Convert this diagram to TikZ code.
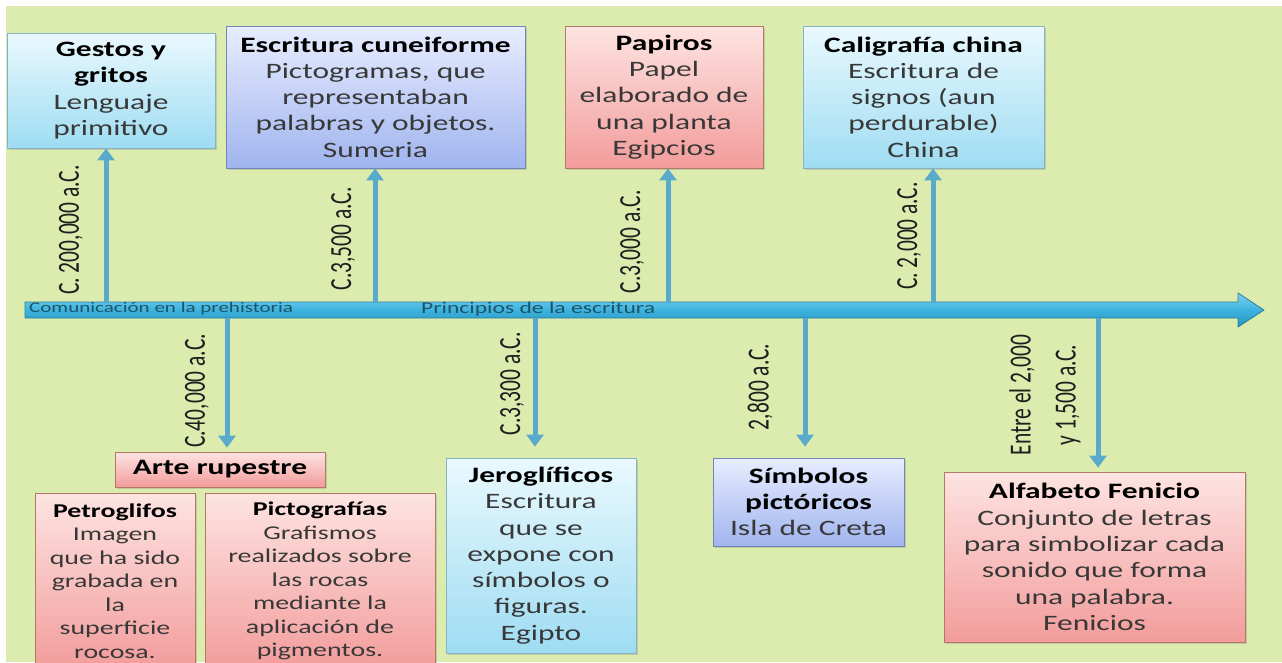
\documentclass[tikz,border=0pt]{standalone}
\usepackage{fontspec}
\setmainfont{Carlito}[FakeStretch=1.43]
\newfontfamily\datefont{Carlito}[FakeStretch=0.7]
\usetikzlibrary{arrows.meta,shadows}
\definecolor{bgG}{HTML}{DCECAE}
\definecolor{cyT}{HTML}{EAF9FE}
\definecolor{cyB}{HTML}{9EDCF2}
\definecolor{cyL}{HTML}{86B4C6}
\definecolor{blT}{HTML}{E8EDFF}
\definecolor{blB}{HTML}{A0B4EE}
\definecolor{blL}{HTML}{7186B8}
\definecolor{rdT}{HTML}{FDE4E2}
\definecolor{rdB}{HTML}{F29C9B}
\definecolor{rdL}{HTML}{B27A66}
\definecolor{arrC}{HTML}{5AAACB}
\definecolor{tlT}{HTML}{7FD3EE}
\definecolor{tlM}{HTML}{3CB2DE}
\definecolor{tlB}{HTML}{2A93BF}
\definecolor{tlL}{HTML}{2F7E9E}
\definecolor{eraT}{HTML}{1B5567}
\newcommand\boxhead[1]{\textcolor{black}{\bfseries #1}}

\begin{document}
\begin{tikzpicture}[x=1pt,y=-1pt,
  box/.style={rectangle,inner sep=0pt,align=center,line width=0.8pt,text=black!78,
    font=\fontsize{22}{26.3}\selectfont,
    drop shadow={shadow xshift=1.5pt,shadow yshift=-1.5pt,opacity=.3}},
  cybox/.style={box,draw=cyL,top color=cyT,bottom color=cyB},
  blbox/.style={box,draw=blL,top color=blT,bottom color=blB},
  rdbox/.style={box,draw=rdL,top color=rdT,bottom color=rdB},
  small/.style={font=\fontsize{19.5}{23.5}\selectfont},
  datelbl/.style={rotate=90,inner sep=0pt,align=center,text=black!88,
    font=\datefont\fontsize{30.7}{45}\selectfont},
  conn/.style={draw=arrC,line width=5pt,-{Triangle[width=17pt,length=12pt]}},
  era/.style={anchor=west,inner sep=0pt,text=eraT}]
\useasboundingbox (0,0) rectangle (1282,662);
\clip (0,0) rectangle (1282,662);
\fill[white] (0,0) rectangle (1282,662);
\fill[bgG] (6,6) rectangle (1282,662);

\shade[top color=tlT,bottom color=tlB,middle color=tlM,draw=tlL,line width=0.8pt]
  (25,302) -- (1238,302) -- (1238,293) -- (1264,310) -- (1238,327) -- (1238,318) -- (25,318) -- cycle;
\node[era,font=\fontsize{14.7}{15}\selectfont] (pre) at (29,309) {Comunicación en la prehistoria};
\node[era,font=\fontsize{16.5}{17}\selectfont] (esc) at (421,309) {Principios de la escritura};

\coordinate (u1) at (106,302);
\coordinate (u2) at (375,302);
\coordinate (u3) at (668,302);
\coordinate (u4) at (933,302);
\coordinate (w1) at (227,318);
\coordinate (w2) at (535,318);
\coordinate (w3) at (805,318);
\coordinate (w4) at (1098,318);

\node[cybox,minimum width=208pt,minimum height=115pt] (gestos) at (111,90.5)
  {\boxhead{Gestos y}\\\boxhead{gritos}\\Lenguaje\\primitivo};
\node[blbox,minimum width=299pt,minimum height=142pt] (cunei) at (375.5,97)
  {\boxhead{Escritura cuneiforme}\\Pictogramas, que\\representaban\\palabras y objetos.\\Sumeria};
\node[rdbox,minimum width=198pt,minimum height=142pt] (papiros) at (664,97)
  {\boxhead{Papiros}\\Papel\\elaborado de\\una planta\\Egipcios};
\node[cybox,minimum width=241pt,minimum height=142pt] (china) at (923.5,97)
  {\boxhead{Caligrafía china}\\Escritura de\\signos (aun\\perdurable)\\China};

\node[rdbox,minimum width=210pt,minimum height=35pt] (arte) at (220,469.5)
  {\boxhead{Arte rupestre}};
\node[rdbox,small,minimum width=160pt,minimum height=176pt] (petro) at (115,581)
  {\boxhead{Petroglifos}\\Imagen\\que ha sido\\grabada en\\la\\superficie\\rocosa.};
\node[rdbox,small,minimum width=230pt,minimum height=176pt] (picto) at (320,581)
  {\boxhead{Pictografías}\\Grafismos\\realizados sobre\\las rocas\\mediante la\\aplicación de\\pigmentos.};
\node[cybox,minimum width=190pt,minimum height=195pt] (jero) at (541,555.5)
  {\boxhead{Jeroglíficos}\\Escritura\\que se\\expone con\\símbolos o\\figuras.\\Egipto};
\node[blbox,minimum width=191pt,minimum height=88pt] (simb) at (808.5,502)
  {\boxhead{Símbolos}\\\boxhead{pictóricos}\\Isla de Creta};
\node[rdbox,minimum width=301pt,minimum height=170pt] (fenicio) at (1094.5,557)
  {\boxhead{Alfabeto Fenicio}\\Conjunto de letras\\para simbolizar cada\\sonido que forma\\una palabra.\\Fenicios};

\draw[conn] (u1) -- (u1 |- gestos.south);
\draw[conn] (u2) -- (u2 |- cunei.south);
\draw[conn] (u3) -- (u3 |- papiros.south);
\draw[conn] (u4) -- (u4 |- china.south);
\draw[conn,shorten >=4pt] (w1) -- (w1 |- arte.north);
\draw[conn,shorten >=11pt] (w2) -- (w2 |- jero.north);
\draw[conn,shorten >=11pt] (w3) -- (w3 |- simb.north);
\draw[conn,shorten >=4pt] (w4) -- (w4 |- fenicio.north);

\foreach \n/\p/\t in {da/{(71,230)}/{C. 200,000 a.C.}, db/{(343,239)}/{C.3,500 a.C.},
    dc/{(632,242)}/{C.3,000 a.C.}, dd/{(909,236)}/{C. 2,000 a.C.},
    de/{(197,391)}/{C.40,000 a.C.}, df/{(512,384)}/{C.3,300 a.C.},
    dg/{(760,387)}/{2,800 a.C.}, dh/{(1045,395)}/{Entre el 2,000\\y 1,500 a.C.}}
  \node[datelbl] (\n) at \p {\t};
\end{tikzpicture}
\end{document}
